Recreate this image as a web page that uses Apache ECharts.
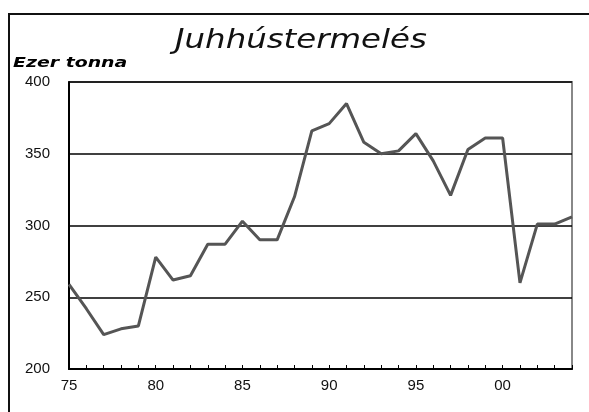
<!DOCTYPE html>
<html>
<head>
<meta charset="utf-8">
<script src="https://cdn.jsdelivr.net/npm/echarts@6/dist/echarts.min.js"></script>
<style>
  html, body { margin: 0; padding: 0; background: #fff; }
  #chart { width: 589px; height: 412px; }
</style>
</head>
<body>
<div id="chart"></div>
<script>
// years 1975..2004, shown as two digits
var years = ['75', '76', '77', '78', '79', '80', '81', '82', '83', '84',
             '85', '86', '87', '88', '89', '90', '91', '92', '93', '94',
             '95', '96', '97', '98', '99', '00', '01', '02', '03', '04'];
// ezer tonna
var production = [259, 242, 224, 228, 230, 278, 262, 265, 287, 287,
                  303, 290, 290, 320, 366, 371, 385, 358, 350, 352,
                  364, 345, 321, 353, 361, 361, 260, 301, 301, 306];
var yTicks = [200, 250, 300, 350, 400];

var myChart = echarts.init(document.getElementById('chart'));
option = {
    animation: false,
    graphic: [
        {
            type: 'rect',
            shape: { x: 9, y: 14, width: 700, height: 500 },
            style: { fill: 'none', stroke: '#111', lineWidth: 2 }
        },
        {
            // title, the original is drawn wide
            type: 'text',
            x: 175,
            y: 27,
            scaleX: 1.2,
            style: {
                text: 'Juhhústermelés',
                fontFamily: 'DejaVu Sans',
                fontStyle: 'italic',
                fontSize: 27,
                fill: '#111'
            }
        },
        {
            type: 'text',
            x: 13,
            y: 56,
            scaleX: 1.35,
            style: {
                text: 'Ezer tonna',
                fontFamily: 'DejaVu Sans',
                fontStyle: 'italic',
                fontWeight: 'bold',
                fontSize: 14,
                fill: '#000'
            }
        }
    ],
    grid: {
        left: 69,
        right: 17,
        top: 82,
        bottom: 43,
        show: true,
        borderColor: '#888',
        borderWidth: 2
    },
    xAxis: {
        type: 'category',
        data: years,
        boundaryGap: false,
        axisLine: { lineStyle: { color: '#000', width: 2 } },
        axisTick: { show: true, inside: true, length: 4, interval: 0, lineStyle: { color: '#000', width: 1 } },
        axisLabel: {
            interval: 4,
            margin: 9,
            fontFamily: 'Liberation Sans',
            fontSize: 15,
            color: '#111'
        },
        splitLine: { show: false }
    },
    yAxis: {
        type: 'value',
        min: yTicks[0],
        max: yTicks[yTicks.length - 1],
        interval: 50,
        axisLine: { show: true, lineStyle: { color: '#000', width: 2 } },
        axisTick: { show: false },
        axisLabel: {
            margin: 19,
            fontFamily: 'Liberation Sans',
            fontSize: 15,
            color: '#111'
        },
        splitLine: { lineStyle: { color: '#000', width: 1.5 } }
    },
    series: [{
        type: 'line',
        data: production,
        symbol: 'none',
        lineStyle: { color: '#555', width: 3 }
    }]
};
myChart.setOption(option);
</script>
</body>
</html>
